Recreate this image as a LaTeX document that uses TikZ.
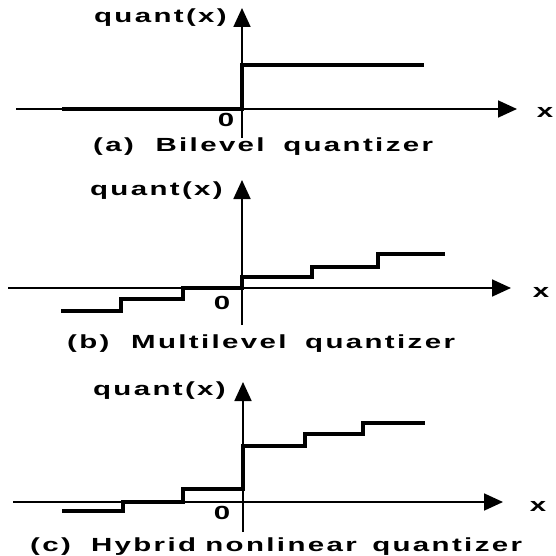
\documentclass[tikz,border=0pt]{standalone}
\usepackage{fontspec}
\usetikzlibrary{arrows.meta}
\newfontfamily\lblfont[LetterSpace=8]{Liberation Sans Bold}
\newcommand\wlabel[1]{\scalebox{1.55}[1]{\lblfont #1}}
\tikzset{
  axis/.style={line width=1.8pt, -{Triangle[length=19pt,width=17pt]}},
  stair/.style={line width=3.8pt, line cap=butt, line join=miter},
  lbl/.style={inner sep=0pt, font=\fontsize{19}{22}\selectfont},
}
\begin{document}
\begin{tikzpicture}[x=1pt, y=-1pt]
\useasboundingbox (0,0) rectangle (556,556);

% ---------- (a) bilevel quantizer ----------
\coordinate (a-xl) at (16,109);
\coordinate (a-xr) at (517,109);
\coordinate (a-yb) at (242,138);
\coordinate (a-yt) at (242,8);
\draw[axis] (a-xl) -- (a-xr);
\draw[axis] (a-yb) -- (a-yt);
\draw[stair] (62,109) -- (242,109) -- (242,65) -- (424,65);
\node[lbl, anchor=east] (a-q) at (227,18) {\wlabel{quant(x)}};
\node[lbl] (a-0) at (226,120) {\wlabel{0}};
\node[lbl] (a-x) at (545,112) {\wlabel{x}};
\node[lbl, anchor=west] (a-cap) at (93,147) {\wlabel{(a)\hspace{14pt}Bilevel\hspace{12pt}quantizer}};

% ---------- (b) multilevel quantizer ----------
\coordinate (b-xl) at (8,288);
\coordinate (b-xr) at (511,288);
\coordinate (b-yb) at (242,325);
\coordinate (b-yt) at (242,180);
\draw[axis] (b-xl) -- (b-xr);
\draw[axis] (b-yb) -- (b-yt);
\draw[stair] (61,310.7) -- (121,310.7) -- (121,299.3) -- (183,299.3)
  -- (183,288) -- (242,288) -- (242,277.3) -- (312,277.3)
  -- (312,266.7) -- (378,266.7) -- (378,254.3) -- (445,254.3);
\node[lbl, anchor=east] (b-q) at (223,191) {\wlabel{quant(x)}};
\node[lbl] (b-0) at (222,303) {\wlabel{0}};
\node[lbl] (b-x) at (541,292) {\wlabel{x}};
\node[lbl, anchor=west] (b-cap) at (67,344) {\wlabel{(b)\hspace{14pt}Multilevel\hspace{12pt}quantizer}};

% ---------- (c) hybrid nonlinear quantizer ----------
\coordinate (c-xl) at (13,502);
\coordinate (c-xr) at (503,502);
\coordinate (c-yb) at (243,532);
\coordinate (c-yt) at (243,382);
\draw[axis] (c-xl) -- (c-xr);
\draw[axis] (c-yb) -- (c-yt);
\draw[stair] (62,511) -- (123,511) -- (123,502) -- (183,502)
  -- (183,489.3) -- (243,489.3) -- (243,446) -- (305,446)
  -- (305,434) -- (363,434) -- (363,423) -- (425,423);
\node[lbl, anchor=east] (c-q) at (226,391) {\wlabel{quant(x)}};
\node[lbl] (c-0) at (222,513) {\wlabel{0}};
\node[lbl] (c-x) at (538,506) {\wlabel{x}};
\node[lbl, anchor=west] (c-cap) at (30,547) {\wlabel{(c)\hspace{13pt}Hybrid\hspace{6pt}nonlinear\hspace{10pt}quantizer}};
\end{tikzpicture}
\end{document}
